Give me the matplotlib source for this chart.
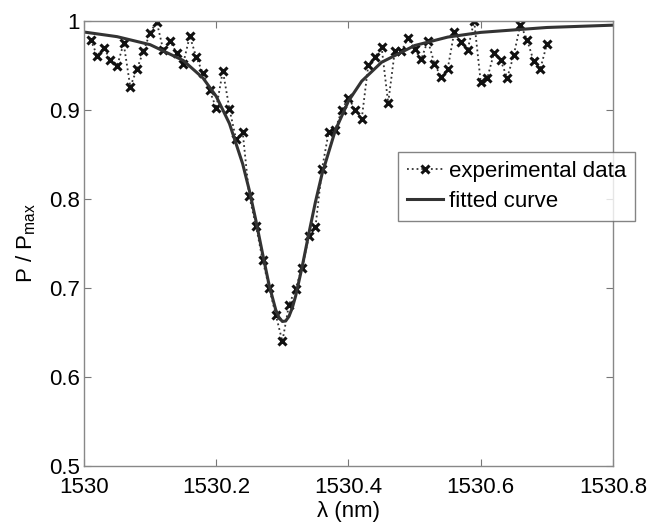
import matplotlib
matplotlib.use("Agg")
import matplotlib.pyplot as plt

plt.rcParams['font.family'] = ['Liberation Sans', 'DejaVu Sans']

# ---- measured transmission, 0.01 nm steps from 1530.01 nm ----
wl_exp = [1530.01, 1530.02, 1530.03, 1530.04, 1530.05, 1530.06, 1530.07, 1530.08, 1530.09, 1530.10,
          1530.11, 1530.12, 1530.13, 1530.14, 1530.15, 1530.16, 1530.17, 1530.18, 1530.19, 1530.20,
          1530.21, 1530.22, 1530.23, 1530.24, 1530.25, 1530.26, 1530.27, 1530.28, 1530.29, 1530.30,
          1530.31, 1530.32, 1530.33, 1530.34, 1530.35, 1530.36, 1530.37, 1530.38, 1530.39, 1530.40,
          1530.41, 1530.42, 1530.43, 1530.44, 1530.45, 1530.46, 1530.47, 1530.48, 1530.49, 1530.50,
          1530.51, 1530.52, 1530.53, 1530.54, 1530.55, 1530.56, 1530.57, 1530.58, 1530.59, 1530.60,
          1530.61, 1530.62, 1530.63, 1530.64, 1530.65, 1530.66, 1530.67, 1530.68, 1530.69, 1530.70]
p_exp = [0.979, 0.961, 0.970, 0.956, 0.949, 0.975, 0.926, 0.946, 0.966, 0.987,
         0.999, 0.967, 0.978, 0.964, 0.952, 0.983, 0.959, 0.941, 0.922, 0.902,
         0.944, 0.901, 0.867, 0.875, 0.803, 0.770, 0.732, 0.700, 0.670, 0.640,
         0.681, 0.699, 0.723, 0.758, 0.768, 0.834, 0.875, 0.878, 0.900, 0.914,
         0.900, 0.890, 0.951, 0.959, 0.971, 0.908, 0.966, 0.966, 0.981, 0.968,
         0.957, 0.978, 0.952, 0.937, 0.946, 0.988, 0.976, 0.967, 1.000, 0.931,
         0.936, 0.964, 0.956, 0.936, 0.962, 0.996, 0.979, 0.955, 0.946, 0.974]

# ---- fitted curve ----
wl_fit = [1530.00, 1530.05, 1530.10, 1530.15, 1530.18, 1530.20, 1530.22, 1530.24, 1530.25, 1530.26,
          1530.27, 1530.28, 1530.29, 1530.295, 1530.30, 1530.305, 1530.31, 1530.315, 1530.32, 1530.33,
          1530.34, 1530.35, 1530.36, 1530.38, 1530.40, 1530.42, 1530.45, 1530.50, 1530.55, 1530.60,
          1530.70, 1530.80]
p_fit = [0.9876, 0.9824, 0.9734, 0.9557, 0.9359, 0.9153, 0.8847, 0.8394, 0.8098, 0.7757,
         0.7388, 0.7032, 0.6754, 0.6667, 0.6624, 0.6629, 0.6681, 0.6776, 0.6908, 0.7241,
         0.7611, 0.7966, 0.8281, 0.8770, 0.9101, 0.9324, 0.9536, 0.9724, 0.9819, 0.9872,
         0.9927, 0.9953]

x_ticks = [1530, 1530.2, 1530.4, 1530.6, 1530.8]
x_labels = ["1530", "1530.2", "1530.4", "1530.6", "1530.8"]
y_ticks = [0.5, 0.6, 0.7, 0.8, 0.9, 1.0]
y_labels = ["0.5", "0.6", "0.7", "0.8", "0.9", "1"]

fig = plt.figure(figsize=(6.52, 5.22), dpi=100)
ax = fig.add_axes([0.1288, 0.1073, 0.8114, 0.8525])

ax.plot(wl_exp, p_exp, color="#333333", ls=":", lw=1.3, marker="x", ms=6, mew=2.2,
        mec="#111111", label="experimental data")
ax.plot(wl_fit, p_fit, color="#333333", lw=2.2, label="fitted curve")

ax.set_xlim(1530, 1530.8)
ax.set_ylim(0.5, 1.0)
ax.set_xticks(x_ticks, x_labels)
ax.set_yticks(y_ticks, y_labels)
ax.tick_params(direction="in", length=5, width=0.8, color="#777777", labelsize=16,
               top=True, right=True)
ax.tick_params(axis="x", pad=8)
ax.tick_params(axis="y", pad=3)
for s in ax.spines.values():
    s.set_color("#888888")
    s.set_linewidth(1.0)

ax.set_xlabel("λ (nm)", fontsize=16, labelpad=2)
ax.set_ylabel("P / P$_{\\mathregular{max}}$", fontsize=16, labelpad=8)

leg = ax.legend(loc="upper left", bbox_to_anchor=(0.593, 0.705), fontsize=16, frameon=True,
                fancybox=False, handlelength=1.65, handletextpad=0.25, borderpad=0.4,
                labelspacing=0.4, borderaxespad=0)
leg.get_frame().set_edgecolor("#666666")
leg.get_frame().set_linewidth(1.0)

fig.savefig("out.png", dpi=100)
